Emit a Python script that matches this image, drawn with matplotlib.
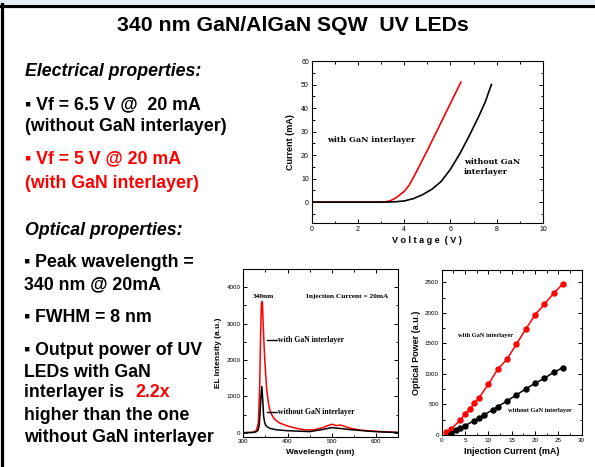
import matplotlib
matplotlib.use("Agg")
import matplotlib.pyplot as plt
from matplotlib.lines import Line2D
from matplotlib.patches import Rectangle
from matplotlib.ticker import MultipleLocator

W, H = 595, 467

# I-V curves
v_with = [0, 3.0, 3.2, 3.4, 3.6, 3.8, 4.0, 4.2, 4.4, 4.6, 4.8, 5.0, 5.2, 5.4, 5.6, 5.8,
          6.0, 6.2, 6.45]
i_with = [0, 0, 0.1, 0.6, 1.6, 3, 4.6, 7, 10.5, 14.3, 18.2, 22, 26, 30, 34, 38,
          42, 46, 51]
v_without = [0, 3.0, 3.3, 3.6, 4.0, 4.4, 4.8, 5.2, 5.6, 6.0, 6.4, 6.8, 7.2, 7.5, 7.77]
i_without = [0, 0, 0.05, 0.15, 0.5, 1.5, 3.2, 5.5, 8.8, 14, 20.5, 28, 36, 42.5, 50]

# EL spectra at 20 mA
wl_with = [300, 320, 326, 330, 334, 337, 339, 341, 343, 345, 347, 349, 353, 357, 360,
           365, 370, 380, 390, 400, 420, 440, 460, 480, 490, 500, 505, 510, 520, 530,
           540, 560, 580, 600, 625, 650]
el_with = [0, 10, 30, 80, 260, 1200, 2600, 3550, 3610, 3000, 2400, 1900, 1180, 800, 620,
           480, 380, 280, 230, 185, 120, 75, 80, 140, 190, 230, 220, 195, 210, 170,
           130, 80, 55, 40, 20, 8]
wl_without = [300, 320, 328, 333, 336, 338, 340, 342, 344, 346, 348, 350, 353, 360, 375,
              400, 450, 480, 500, 510, 520, 550, 600, 650]
el_without = [0, 5, 20, 60, 200, 540, 1000, 1270, 900, 450, 300, 220, 170, 120, 80,
              55, 30, 90, 140, 125, 115, 75, 28, 5]

# optical power vs current
cur_with = [1, 2, 4, 5, 6, 7, 8, 10, 12, 14, 16, 18, 20, 22, 24, 26]
pow_with = [44, 98, 245, 340, 425, 520, 610, 830, 1075, 1240, 1485, 1730, 1965, 2140, 2320, 2473]
cur_without = [2, 3, 4, 5, 7, 8, 9, 11, 12, 14, 16, 18, 20, 22, 24, 26]
pow_without = [20, 82, 120, 153, 235, 284, 328, 415, 464, 557, 655, 753, 846, 928, 1026, 1103]

SANS = ["Liberation Sans", "DejaVu Sans"]
SERIF = ["Liberation Serif", "DejaVu Serif"]
WIDE_SERIF = ["DejaVu Serif"]
RED = "#ff0000"

plt.rcParams["font.family"] = SANS

fig = plt.figure(figsize=(W / 100, H / 100), dpi=100)


def fx(px):
    return px / W


def fy(py):
    return 1 - py / H


def axes_px(left, top, right, bottom):
    return fig.add_axes([fx(left), fy(bottom), fx(right) - fx(left), fy(top) - fy(bottom)])


# slide frame
fig.patches.append(Rectangle((0, fy(4)), 1, 4 / H, transform=fig.transFigure,
                             facecolor="#e4effa", edgecolor="none"))
fig.lines.append(Line2D([0, 1], [fy(5.5), fy(5.5)], transform=fig.transFigure, color="black", lw=2.3))
fig.lines.append(Line2D([fx(2), fx(2)], [0, fy(4)], transform=fig.transFigure, color="black", lw=2.3))

fig.text(fx(293), fy(31), "340 nm GaN/AlGaN SQW  UV LEDs", ha="center", va="baseline",
         fontsize=15.3, fontweight="bold")

body = dict(fontsize=12.8, fontweight="bold", va="baseline", ha="left", family=SANS)
fig.text(fx(25), fy(76), "Electrical properties:", style="italic", **body)
fig.text(fx(25), fy(109), "\u25aa Vf = 6.5 V @  20 mA", **body)
fig.text(fx(25), fy(131), "(without GaN interlayer)", **body)
fig.text(fx(25), fy(163), "\u25aa Vf = 5 V @ 20 mA", color=RED, **body)
fig.text(fx(25), fy(188), "(with GaN interlayer)", color=RED, **body)
fig.text(fx(25), fy(235), "Optical properties:", style="italic", **body)
fig.text(fx(24), fy(267), "\u25aa Peak wavelength =", **body)
fig.text(fx(24), fy(289), "340 nm @ 20mA", **body)
fig.text(fx(24), fy(322), "\u25aa FWHM = 8 nm", **body)
fig.text(fx(24), fy(355), "\u25aa Output power of UV", **body)
fig.text(fx(24), fy(377), "LEDs with GaN", **body)
fig.text(fx(24), fy(397), "interlayer is", **body)
fig.text(fx(135), fy(397), "2.2x", color=RED, **body)
fig.text(fx(24), fy(420), "higher than the one", **body)
fig.text(fx(24), fy(442), "without GaN interlayer", **body)


def style_axes(ax, size):
    ax.tick_params(which="both", direction="in", top=True, right=True, labelsize=size,
                   width=0.7, pad=2)
    ax.tick_params(which="major", length=3)
    ax.tick_params(which="minor", length=1.8)
    for s in ax.spines.values():
        s.set_linewidth(0.8)


# I-V chart
ax1 = axes_px(311.7, 61, 543, 223.3)
ax1.plot(v_with, i_with, color=RED, lw=1.2)
ax1.plot(v_without, i_without, color="black", lw=1.2)
ax1.set_xlim(0, 10)
ax1.set_ylim(-9, 60)
ax1.xaxis.set_major_locator(MultipleLocator(2))
ax1.xaxis.set_minor_locator(MultipleLocator(1))
ax1.yaxis.set_major_locator(MultipleLocator(10))
ax1.yaxis.set_minor_locator(MultipleLocator(5))
ax1.set_yticks([0, 10, 20, 30, 40, 50, 60])
style_axes(ax1, 5)
ax1.set_xlabel("V o l t a g e  ( V )", fontsize=6.5, fontweight="bold", labelpad=2)
ax1.set_ylabel("Current (mA)", fontsize=6.5, fontweight="bold", labelpad=4)
ax1.text(0.66, 26.3, "with GaN interlayer", family=WIDE_SERIF, fontsize=5.8, fontweight="bold",
         va="center")
ax1.text(6.58, 16.9, "without GaN", family=WIDE_SERIF, fontsize=5.8, fontweight="bold", va="center")
ax1.text(6.58, 12.6, "interlayer", family=WIDE_SERIF, fontsize=5.8, fontweight="bold", va="center")

# EL spectra chart
ax2 = axes_px(243.3, 269, 398, 436.7)
ax2.plot(wl_with, el_with, color=RED, lw=1.1)
ax2.plot(wl_without, el_without, color="black", lw=1.1)
ax2.set_xlim(300, 650)
ax2.set_ylim(-110, 4500)
ax2.xaxis.set_major_locator(MultipleLocator(100))
ax2.xaxis.set_minor_locator(MultipleLocator(50))
ax2.yaxis.set_major_locator(MultipleLocator(1000))
ax2.yaxis.set_minor_locator(MultipleLocator(500))
style_axes(ax2, 4.5)
ax2.set_xlabel("Wavelength (nm)", fontsize=6, fontweight="bold", labelpad=3)
ax2.set_ylabel("EL Intensity (a.u.)", fontsize=6, fontweight="bold", labelpad=3)
ax2.text(345, 3740, "340nm", family=SERIF, fontsize=5.3, fontweight="bold", ha="center", va="center")
ax2.text(536, 3740, "Injection Current = 20mA", family=SERIF, fontsize=5.3, fontweight="bold",
         ha="center", va="center")
ax2.plot([354, 376], [2560, 2560], color="black", lw=1)
ax2.text(378.6, 2560, "with GaN interlayer", family=SERIF, fontsize=5.5, fontweight="bold", va="center")
ax2.plot([354, 376], [580, 580], color="black", lw=1)
ax2.text(378.6, 580, "without GaN interlayer", family=SERIF, fontsize=5.5, fontweight="bold", va="center")

# optical power chart
ax3 = axes_px(441.7, 270, 581.7, 435)
ax3.plot(cur_with, pow_with, color=RED, lw=1.1, marker="o", ms=3.6)
ax3.plot(cur_without, pow_without, color="black", lw=1.1, marker="o", ms=3.6)
ax3.set_xlim(0, 30)
ax3.set_ylim(0, 2700)
ax3.xaxis.set_major_locator(MultipleLocator(5))
ax3.xaxis.set_minor_locator(MultipleLocator(2.5))
ax3.yaxis.set_major_locator(MultipleLocator(500))
ax3.yaxis.set_minor_locator(MultipleLocator(250))
style_axes(ax3, 4.5)
ax3.set_xlabel("Injection Current (mA)", fontsize=6.5, fontweight="bold", labelpad=3)
ax3.set_ylabel("Optical Power (a.u.)", fontsize=6.5, fontweight="bold", labelpad=3)
ax3.text(3.5, 1621, "with GaN interlayer", family=SERIF, fontsize=4.6, fontweight="bold", va="center")
ax3.text(14.2, 393, "without GaN interlayer", family=SERIF, fontsize=4.6, fontweight="bold", va="center")

fig.savefig("out.png", dpi=100)
